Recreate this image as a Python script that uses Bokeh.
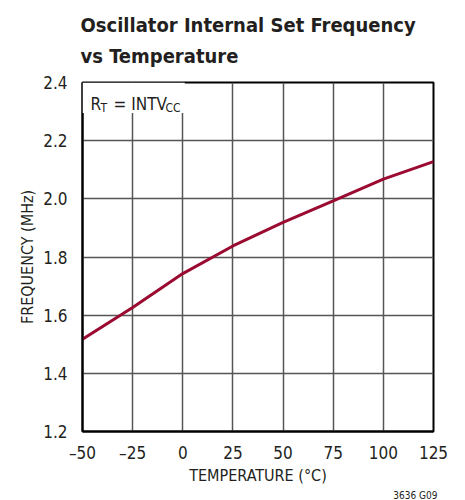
from bokeh.plotting import figure
from bokeh.models import Label, BoxAnnotation, FixedTicker, Range1d, Title
from bokeh.embed import file_html
from bokeh.resources import INLINE

temperature = [-50, -25, 0, 25, 50, 75, 100, 125]
frequency = [1.517, 1.626, 1.743, 1.838, 1.919, 1.993, 2.068, 2.128]
x_ticks = [-50, -25, 0, 25, 50, 75, 100, 125]
x_tick_labels = {-50: "–50", -25: "–25"}
y_ticks = [1.2, 1.4, 1.6, 1.8, 2.0, 2.2, 2.4]

FONT = "DejaVu Sans Condensed"
TXT = "#231f20"

p = figure(width=457, height=500, output_backend="svg", toolbar_location=None,
           x_range=Range1d(-50, 125), y_range=Range1d(1.2, 2.4),
           min_border_left=82, min_border_right=24, min_border_top=81, min_border_bottom=68)

p.title.text = "Oscillator Internal Set Frequency\nvs Temperature"
p.title.text_font = FONT
p.title.text_font_style = "bold"
p.title.text_font_size = "20px"
p.title.text_line_height = 1.28
p.title.text_color = TXT
p.title.align = "left"
p.title.offset = -2
p.title.standoff = 25
p.title.vertical_align = "top"

p.line(temperature, frequency, line_color="#9b0a30", line_width=3)

p.xaxis.ticker = FixedTicker(ticks=x_ticks)
p.yaxis.ticker = FixedTicker(ticks=y_ticks)
p.xaxis.major_label_overrides = x_tick_labels
p.yaxis.major_label_overrides = {1.2: "1.2", 1.4: "1.4", 1.6: "1.6", 1.8: "1.8", 2.0: "2.0", 2.2: "2.2", 2.4: "2.4"}

for ax in (p.xaxis[0], p.yaxis[0]):
    ax.major_tick_line_color = None
    ax.minor_tick_line_color = None
    ax.axis_line_color = "black"
    ax.axis_line_width = 2
    ax.major_label_text_font = FONT
    ax.major_label_text_font_size = "17px"
    ax.major_label_text_color = TXT
    ax.axis_label_text_font = FONT
    ax.axis_label_text_font_size = "16px"
    ax.axis_label_text_font_style = "normal"
    ax.axis_label_text_color = TXT

p.xaxis.axis_label = "TEMPERATURE (°C)"
p.yaxis.axis_label = "FREQUENCY (MHz)"
p.xaxis.major_label_standoff = 5
p.yaxis.major_label_standoff = 9
p.xaxis.axis_label_standoff = 0
p.yaxis.axis_label_standoff = 3

p.xgrid.grid_line_color = "#555555"
p.ygrid.grid_line_color = "#555555"
p.xgrid.grid_line_width = 1.5
p.ygrid.grid_line_width = 1.5
p.outline_line_color = "black"
p.outline_line_width = 2
p.outline_line_alpha = 1

p.add_layout(BoxAnnotation(left=-50, right=1.0, bottom=2.295, top=2.4,
                           fill_color="white", fill_alpha=1, line_color=None, level="overlay"))

def lab(x, y, t, size):
    p.add_layout(Label(x=x, y=y, text=t, text_font=FONT, text_font_size=size,
                       text_color=TXT, text_baseline="alphabetic", level="overlay"))

lab(-46, 2.326, "R", "17px")
lab(-41.0, 2.312, "T", "12px")
lab(-34.5, 2.326, "= INTV", "17px")
lab(-8.6, 2.312, "CC", "12px")

p.add_layout(Title(text="3636 G09", align="right", text_font=FONT, text_font_size="10px",
                   text_font_style="normal", text_color=TXT, standoff=0, offset=-4), "below")

open("out.html", "w").write(file_html(p, INLINE))
